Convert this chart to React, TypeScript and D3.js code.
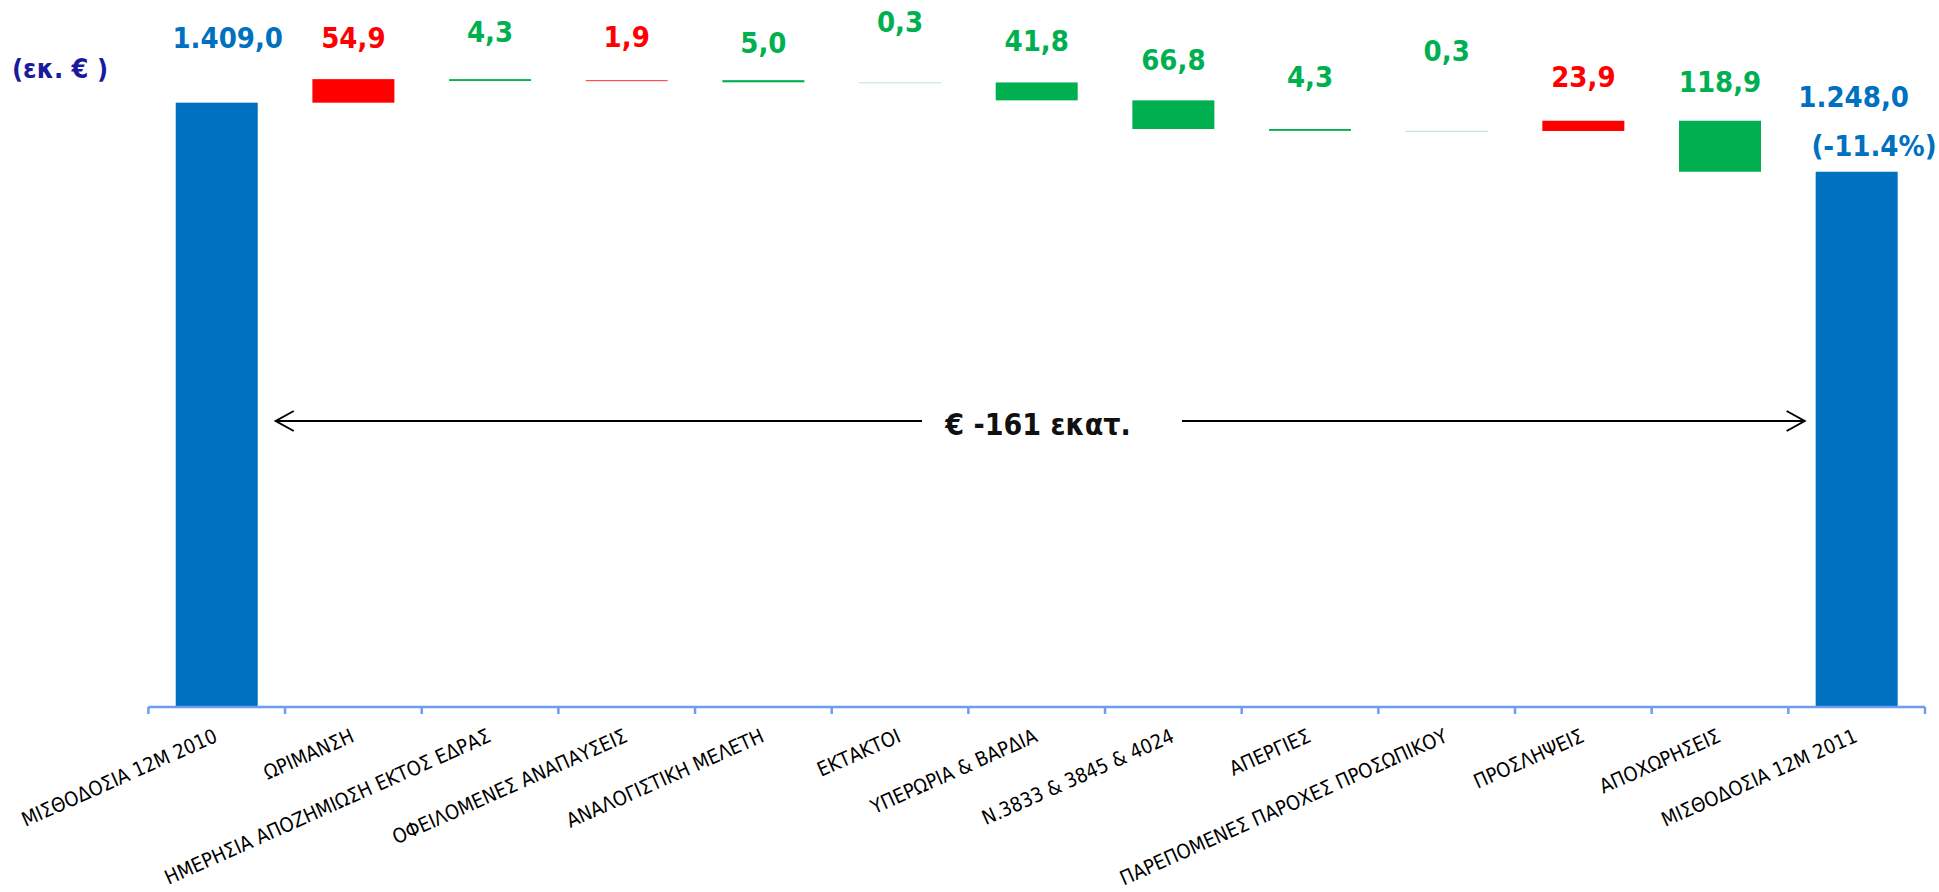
import React from 'react';
import * as d3 from 'd3';

const categories = [
  'ΜΙΣΘΟΔΟΣΙΑ 12Μ 2010',
  'ΩΡΙΜΑΝΣΗ',
  'ΗΜΕΡΗΣΙΑ ΑΠΟΖΗΜΙΩΣΗ ΕΚΤΟΣ ΕΔΡΑΣ',
  'ΟΦΕΙΛΟΜΕΝΕΣ ΑΝΑΠΑΥΣΕΙΣ',
  'ΑΝΑΛΟΓΙΣΤΙΚΗ ΜΕΛΕΤΗ',
  'ΕΚΤΑΚΤΟΙ',
  'ΥΠΕΡΩΡΙΑ & ΒΑΡΔΙΑ',
  'Ν.3833 & 3845 & 4024',
  'ΑΠΕΡΓΙΕΣ',
  'ΠΑΡΕΠΟΜΕΝΕΣ ΠΑΡΟΧΕΣ ΠΡΟΣΩΠΙΚΟΥ',
  'ΠΡΟΣΛΗΨΕΙΣ',
  'ΑΠΟΧΩΡΗΣΕΙΣ',
  'ΜΙΣΘΟΔΟΣΙΑ 12Μ 2011',
];

// 'total' bars start at zero; others are changes from the running total
const kinds = ['total', 'up', 'down', 'up', 'down', 'down', 'down', 'down', 'down', 'down', 'up', 'down', 'total'];
const amounts = [1409.0, 54.9, 4.3, 1.9, 5.0, 0.3, 41.8, 66.8, 4.3, 0.3, 23.9, 118.9, 1248.0];
const valueLabels = ['1.409,0', '54,9', '4,3', '1,9', '5,0', '0,3', '41,8', '66,8', '4,3', '0,3', '23,9', '118,9', '1.248,0'];

// label layout (px above each bar's top), separate from the data
const labelLift = [55, 31, 37, 33, 27, 50, 31, 30, 42, 70, 34, 29, 65];
const labelShift = [11, 0, 0, 0, 0, 0, 0, 0, 0, 0, 0, 0, -3];

const unitLabel = '(εκ. € )';
const diffLabel = '€ -161 εκατ.';
const pctLabel = '(-11.4%)';

const W = 1939;
const H = 892;
const FONT = "'DejaVu Sans Condensed', 'DejaVu Sans', sans-serif";
const COLORS: Record<string, string> = { total: '#0070C0', up: '#FF0000', down: '#00B050' };

export default function App() {
  const baseY = 707;
  const x = d3
    .scaleBand<string>()
    .domain(categories)
    .range([148.4, 1925])
    .paddingInner(0.4)
    .paddingOuter(0.2);
  const y = d3.scaleLinear().domain([0, 1650]).range([baseY, baseY - 1650 * 0.4289]);

  let running = 0;
  const bars = categories.map((c, i) => {
    const k = kinds[i];
    let start: number;
    let end: number;
    if (k === 'total') {
      start = 0;
      end = amounts[i];
      running = amounts[i];
    } else if (k === 'up') {
      start = running;
      end = running + amounts[i];
      running = end;
    } else {
      start = running;
      end = running - amounts[i];
      running = end;
    }
    const top = y(Math.max(start, end));
    const bottom = y(Math.min(start, end));
    const h = bottom - top;
    return { c, i, k, top, h, cx: (x(c) as number) + x.bandwidth() / 2 };
  });

  const step = x.step();
  const r0 = x.range()[0];
  const boundaries = d3.range(categories.length + 1).map((i) => r0 + i * step);

  const arrowY = 421;
  const leftTip = (x(categories[0]) as number) + x.bandwidth() + 18;
  const rightTip = (x(categories[categories.length - 1]) as number) - 11;
  const gapL = 922;
  const gapR = 1182;

  return (
    <svg
      width={W}
      height={H}
      style={{ position: 'absolute', left: 0, top: 0, display: 'block', background: '#fff' }}
      fontFamily={FONT}
    >
      <rect x={0} y={0} width={W} height={H} fill="#fff" />

      {/* unit label */}
      <text x={12} y={78} fontSize={27} fontWeight="bold" fill="#1A1A9E">
        {unitLabel}
      </text>

      {/* bars */}
      {bars.map((b) => (
        <rect
          key={b.c}
          x={x(b.c)}
          y={b.top}
          width={x.bandwidth()}
          height={Math.max(b.h, 1)}
          fill={COLORS[b.k]}
          fillOpacity={Math.min(1, Math.max(b.h, 0.3))}
        />
      ))}

      {/* value labels */}
      {bars.map((b) => (
        <text
          key={'l' + b.c}
          x={b.cx + labelShift[b.i]}
          y={b.top - labelLift[b.i]}
          textAnchor="middle"
          fontSize={29}
          fontWeight="bold"
          fill={COLORS[b.k]}
        >
          {valueLabels[b.i]}
        </text>
      ))}

      <text x={1874} y={156} textAnchor="middle" fontSize={29} fontWeight="bold" fill={COLORS.total}>
        {pctLabel}
      </text>

      {/* axis */}
      <line x1={r0} x2={x.range()[1]} y1={baseY} y2={baseY} stroke="#6E9CF0" strokeWidth={2.5} />
      {boundaries.map((bx, i) => (
        <line key={'t' + i} x1={bx} x2={bx} y1={baseY} y2={baseY + 7} stroke="#6E9CF0" strokeWidth={2.5} />
      ))}

      {/* category labels */}
      {bars.map((b) => (
        <text
          key={'c' + b.c}
          transform={`translate(${b.cx + 2},741) rotate(-24)`}
          textAnchor="end"
          fontSize={20}
          fill="#000"
        >
          {b.c}
        </text>
      ))}

      {/* difference arrow */}
      <g stroke="#000" strokeWidth={2} fill="none">
        <line x1={leftTip} x2={gapL} y1={arrowY} y2={arrowY} />
        <line x1={gapR} x2={rightTip} y1={arrowY} y2={arrowY} />
        <polyline points={`${leftTip + 18},${arrowY - 10} ${leftTip},${arrowY} ${leftTip + 18},${arrowY + 10}`} />
        <polyline points={`${rightTip - 18},${arrowY - 10} ${rightTip},${arrowY} ${rightTip - 18},${arrowY + 10}`} />
      </g>
      <text x={1038} y={435} textAnchor="middle" fontSize={30} fontWeight="bold" fill="#111">
        {diffLabel}
      </text>
    </svg>
  );
}
